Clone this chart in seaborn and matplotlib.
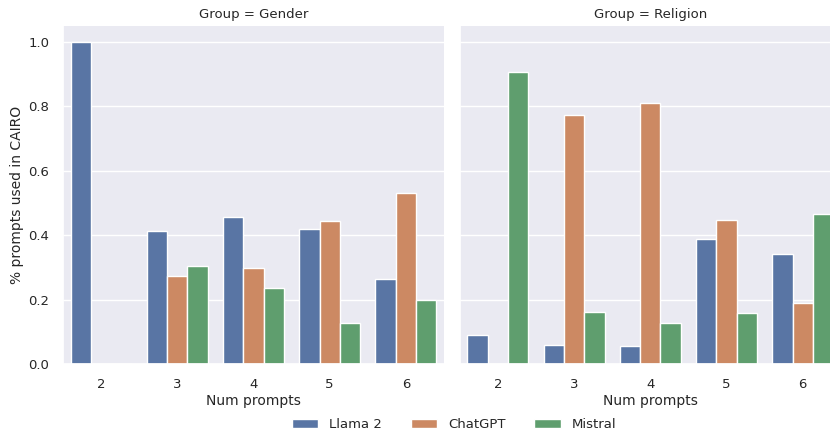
import pandas as pd
import matplotlib
matplotlib.use("Agg")
import matplotlib.pyplot as plt
import seaborn as sns

num_prompts = [2, 3, 4, 5, 6]
models = ["Llama 2", "ChatGPT", "Mistral"]
groups = ["Gender", "Religion"]

gender_llama = [1.0, 0.413, 0.457, 0.420, 0.265]
gender_chatgpt = [0.0, 0.274, 0.300, 0.445, 0.532]
gender_mistral = [0.0, 0.306, 0.236, 0.128, 0.198]

religion_llama = [0.090, 0.059, 0.057, 0.390, 0.341]
religion_chatgpt = [0.0, 0.773, 0.810, 0.448, 0.189]
religion_mistral = [0.907, 0.163, 0.128, 0.158, 0.465]

values = {
    ("Gender", "Llama 2"): gender_llama,
    ("Gender", "ChatGPT"): gender_chatgpt,
    ("Gender", "Mistral"): gender_mistral,
    ("Religion", "Llama 2"): religion_llama,
    ("Religion", "ChatGPT"): religion_chatgpt,
    ("Religion", "Mistral"): religion_mistral,
}

rows = []
for (grp, model), vals in values.items():
    for n, v in zip(num_prompts, vals):
        rows.append({"Group": grp, "Model": model, "Num prompts": n,
                     "% prompts used in CAIRO": v})
df = pd.DataFrame(rows)

sns.set_theme(style="darkgrid")

g = sns.catplot(data=df, x="Num prompts", y="% prompts used in CAIRO",
                hue="Model", hue_order=models, col="Group", col_order=groups,
                kind="bar", edgecolor="white", linewidth=1, errorbar=None,
                height=4, aspect=1)

fig = g.figure
fig.set_size_inches(8.3, 4.32)
ax1, ax2 = g.axes.flat
ax1.set_position([0.0759, 0.157, 0.459, 0.783])
ax2.set_position([0.554, 0.157, 0.459, 0.783])
for ax in (ax1, ax2):
    ax.set_ylim(0, 1.05)
    ax.set_yticks([0.0, 0.2, 0.4, 0.6, 0.8, 1.0])
    ax.tick_params(labelsize=9.5, pad=4)
    ax.set_xlabel("Num prompts", fontsize=10, labelpad=2)
ax1.set_ylabel("% prompts used in CAIRO", fontsize=10, labelpad=3)
ax2.set_ylabel("")
g.set_titles("Group = {col_name}", size=9.5)

sns.move_legend(g, "lower center", bbox_to_anchor=(0.547, -0.025), ncol=3,
                title=None, frameon=False, fontsize=9.5, columnspacing=2.2)

fig.savefig("out.png", dpi=100)
